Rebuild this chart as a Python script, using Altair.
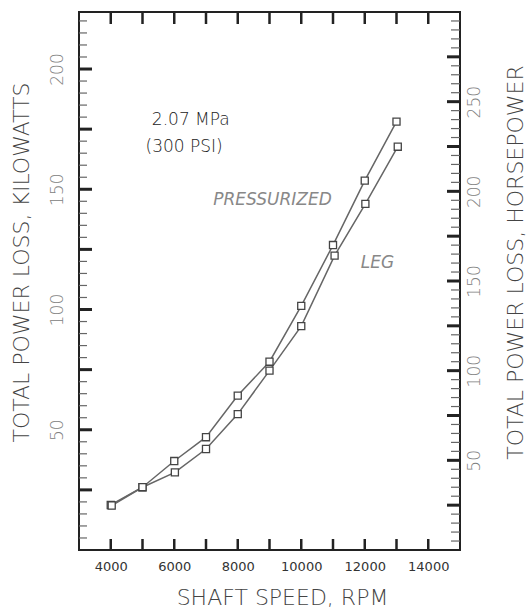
import altair as alt
import pandas as pd

# ---- data ----
rpm_pres = [4000, 5000, 6000, 7000, 8000, 9000, 10000, 11000, 12000, 13000]
kw_pres = [18.7, 26.1, 37.0, 46.9, 64.2, 78.3, 101.5, 126.8, 153.6, 178.1]
rpm_leg = [4030, 5000, 6020, 7000, 8000, 9000, 10000, 11050, 12020, 13040]
kw_leg = [18.5, 26.1, 32.3, 42.0, 56.5, 74.6, 93.1, 122.4, 143.9, 167.7]

x_ticks = [4000, 5000, 6000, 7000, 8000, 9000, 10000, 11000, 12000, 13000, 14000]
x_labels = [4000, 6000, 8000, 10000, 12000, 14000]
kw_labels = [50, 100, 150, 200]
kw_major = [25, 50, 75, 100, 125, 150, 175, 200]
kw_minor = [v for v in range(5, 224, 5) if v % 25 != 0]
hp_labels = [50, 100, 150, 200, 250]
hp_major = [25, 50, 75, 100, 125, 150, 175, 200, 225, 250, 275]
hp_minor = [v for v in range(5, 300, 5) if v % 25 != 0]

notes_plain = ["2.07 MPa", "(300 PSI)"]
notes_plain_x = [6520, 6310]
notes_plain_y = [178.8, 167.7]
notes_italic = ["PRESSURIZED", "LEG"]
notes_italic_x = [9095, 12400]
notes_italic_y = [145.5, 119.3]

KW_MAX = 300 * 0.745699872  # frame top = 300 hp
W, H = 381, 538
FONT = "DejaVu Sans"

series = pd.DataFrame({
    "rpm": rpm_pres + rpm_leg,
    "kw": kw_pres + kw_leg,
    "series": ["Pressurized"] * len(rpm_pres) + ["Leg"] * len(rpm_leg),
})

xs = alt.Scale(domain=[3000, 15000], nice=False, zero=False)
ys = alt.Scale(domain=[0, KW_MAX], nice=False, zero=False)
hs = alt.Scale(domain=[0, 300], nice=False, zero=False)

x_axis = alt.Axis(
    values=x_labels, format="d", ticks=False, tickSize=0, domain=False, grid=False,
    labelFontSize=13, labelColor="#333", labelPadding=10,
    title="SHAFT SPEED, RPM", titleFontSize=22, titleFontWeight=300,
    titleColor="#444", titleX=203, titleY=47, titleBaseline="middle", titleAlign="center",
)
y_axis = alt.Axis(
    values=kw_labels, format="d", ticks=False, tickSize=0, domain=False, grid=False,
    labelFontSize=17, labelFontWeight=300, labelColor="#808080", labelAngle=270,
    labelAlign="center", labelBaseline="bottom", labelPadding=13,
    title="TOTAL POWER LOSS, KILOWATTS", titleFontSize=22, titleFontWeight=300,
    titleColor="#444", titleAngle=270, titleX=-58, titleY=250,
    titleAlign="center", titleBaseline="middle",
)
hp_axis = alt.Axis(
    orient="right", values=hp_labels, format="d", ticks=False, tickSize=0, domain=False,
    grid=False, labelFontSize=17, labelFontWeight=300, labelColor="#808080",
    labelAngle=270, labelAlign="center", labelBaseline="top", labelPadding=6,
    title="TOTAL POWER LOSS, HORSEPOWER", titleFontSize=22, titleFontWeight=300,
    titleColor="#444", titleAngle=270, titleX=55, titleY=250,
    titleAlign="center", titleBaseline="middle",
)

lines = alt.Chart(series).mark_line(color="#666", strokeWidth=1.5).encode(
    x=alt.X("rpm:Q", scale=xs, axis=x_axis),
    y=alt.Y("kw:Q", scale=ys, axis=y_axis),
    detail="series:N",
)
points = alt.Chart(series).mark_point(
    shape="square", filled=True, fill="white", stroke="#444", strokeWidth=1.3,
    size=50, opacity=1,
).encode(
    x=alt.X("rpm:Q", scale=xs),
    y=alt.Y("kw:Q", scale=ys),
)

t1 = alt.Chart(pd.DataFrame({"t": notes_plain, "rpm": notes_plain_x, "kw": notes_plain_y})).mark_text(
    fontSize=17, fontWeight=300, color="#222", align="center", baseline="middle"
).encode(x=alt.X("rpm:Q", scale=xs), y=alt.Y("kw:Q", scale=ys), text="t:N")
t2 = alt.Chart(pd.DataFrame({"t": notes_italic, "rpm": notes_italic_x, "kw": notes_italic_y})).mark_text(
    fontSize=17, fontWeight=300, color="#888", fontStyle="italic", align="center",
    baseline="middle"
).encode(x=alt.X("rpm:Q", scale=xs), y=alt.Y("kw:Q", scale=ys), text="t:N")

xt = pd.DataFrame({"rpm": x_ticks})
top_ticks = alt.Chart(xt).mark_rule(color="#222", strokeWidth=2.5).encode(
    x=alt.X("rpm:Q", scale=xs), y=alt.value(0), y2=alt.value(12))
bot_ticks = alt.Chart(xt).mark_rule(color="#222", strokeWidth=2.5).encode(
    x=alt.X("rpm:Q", scale=xs), y=alt.value(H - 11), y2=alt.value(H))

kmaj = alt.Chart(pd.DataFrame({"kw": kw_major})).mark_rule(color="#222", strokeWidth=3).encode(
    y=alt.Y("kw:Q", scale=ys), x=alt.value(0), x2=alt.value(13))
kmin = alt.Chart(pd.DataFrame({"kw": kw_minor})).mark_rule(color="#666", strokeWidth=1.2).encode(
    y=alt.Y("kw:Q", scale=ys), x=alt.value(0), x2=alt.value(8))

kw_layer = alt.layer(lines, points, t1, t2, top_ticks, bot_ticks, kmaj, kmin)

hmin = alt.Chart(pd.DataFrame({"hp": hp_minor})).mark_rule(color="#666", strokeWidth=1.2).encode(
    y=alt.Y("hp:Q", scale=hs, axis=hp_axis), x=alt.value(W - 9), x2=alt.value(W))
hmaj = alt.Chart(pd.DataFrame({"hp": hp_major})).mark_rule(color="#222", strokeWidth=3).encode(
    y=alt.Y("hp:Q", scale=hs), x=alt.value(W - 13), x2=alt.value(W))
hp_layer = alt.layer(hmin, hmaj)

chart = alt.layer(kw_layer, hp_layer).resolve_scale(y="independent").resolve_axis(
    y="independent"
).properties(
    width=W, height=H,
    padding={"left": 79, "top": 12, "right": 527 - 79 - W, "bottom": 609 - 12 - H},
    autosize=alt.AutoSizeParams(type="none"),
    background="white",
).configure(font=FONT).configure_view(stroke="#222", strokeWidth=2)

chart.save("out.html", embed_options={"renderer": "svg", "actions": False})
